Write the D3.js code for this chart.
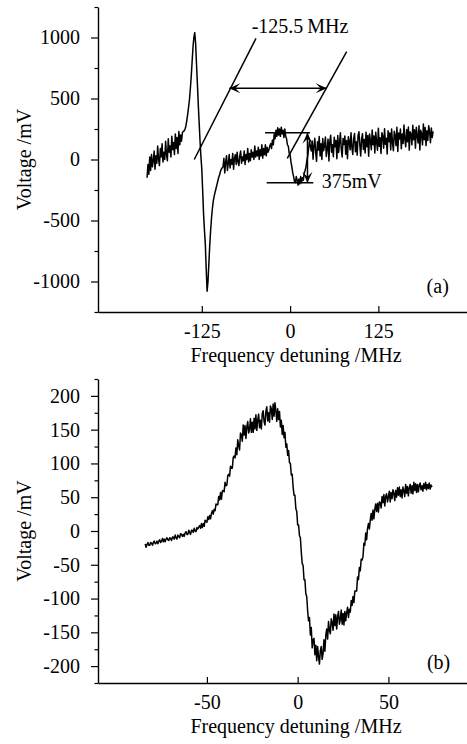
<!DOCTYPE html>
<html>
<head>
<meta charset="utf-8">
<script src="https://cdn.jsdelivr.net/npm/d3@7/dist/d3.min.js"></script>
<style>
  body { margin: 0; background: #fff; }
  svg text { font-family: "Times New Roman", Times, "Liberation Serif", "Nimbus Roman", "DejaVu Serif", serif; fill: #000; }
</style>
</head>
<body>
<svg id="chart" width="467" height="744"></svg>
<script>
const SERIF = '"Times New Roman", Times, "Liberation Serif", "DejaVu Serif", serif';

// (a) sampled every 1.25 MHz starting at -202.5 MHz, mV
const topStart = -202.5;
const topStep = 1.25;
const topVolt = [
  // -202.5 .. -153.75
  -150, -40, -120, 20, -90, 40, -60, -10, 70, -80, 30, -30, 110, 0, -50, 90, 20, 130, -20, 60,
  0, 150, 40, -10, 170, 60, 110, 20, 190, 80, 140, 40, 210, 90, 180, 50, 230, 120, 200, 150,
  // -152.5 .. -96.25
  220, 230, 235, 250, 275, 320, 370, 430, 490, 580, 680, 800, 920, 1000, 1040, 950, 780, 620, 450, 300,
  150, 20, -80, -260, -450, -580, -700, -900, -1080, -1000, -850, -700, -580, -480, -400, -340, -300, -270, -240, -210,
  -180, -150, -130, -100, -80, -70,
  // -95 .. -31.25
  -60, 10, -110, -20, 30, -90, -30, 40, -70, 0, -40, 50, -80, 10, 40, -40, 60, -20, -50, 30,
  70, -30, 20, -10, 70, -40, 40, 0, 90, -20, 50, -10, 80, 20, 60, 0, 110, 20, 70, 30,
  100, 0, 80, 30, 120, 10, 90, 40, 120, 30, 100, 60,
  // -30 .. 30
  80, 110, 130, 90, 160, 120, 210, 170, 240, 190, 260, 200, 250, 190, 265, 210, 240, 180, 250, 190,
  170, 120, 110, 50, 40, -20, -60, -110, -140, -180, -190, -140, -170, -210, -160, -200, -140, -190, -150, -170,
  -110, -90, -60, -10, 30, 90, 150, 110, 70,
  // 31.25 .. 202.5
  151, 2, 113, 174, 54, -15, 146, 77, 188, 29, 130, 1, 172, 72, 113, 184, 25, 86, 167, -12,
  149, 199, 60, 121, 22, 183, 104, 155, 6, 196, 57, 138, 219, 80, 21, 172, 123, 193, 44, 155,
  6, 187, 148, 79, 220, 100, 41, 172, 213, 64, 145, 36, 197, 227, 118, 29, 170, 211, 82, 163,
  54, 224, 105, 196, 27, 208, 159, 80, 241, 121, 192, 53, 224, 145, 76, 257, 108, 178, 49, 220,
  191, 92, 253, 124, 175, 45, 236, 147, 218, 79, 250, 141, 72, 232, 193, 114, 265, 66, 217, 168,
  249, 89, 209, 131, 282, 163, 104, 245, 146, 266, 77, 228, 209, 120, 281, 162, 244, 93, 265, 195,
  136, 277, 78, 239, 210, 120, 291, 162, 263, 114, 235, 156, 277, 227, 138, 259, 180, 231
];

// (b) sampled every 0.5 MHz starting at -84 MHz, mV
const botStart = -84;
const botStep = 0.5;
const botVolt = [
  -19, -24, -20, -17, -21, -21, -17, -18, -21, -17, -15, -19, -18, -15, -19, -15, -13, -17, -15, -11,
  -16, -12, -16, -12, -10, -13, -14, -10, -11, -14, -9, -9, -12, -6, -10, -12, -6, -8, -10, -4,
  -5, -8, -5, -8, -3, -1, -5, -5, 1, -2, -5, 1, 1, -2, 4, 0, -1, 5, 3, 6,
  8, 4, 11, 5, 11, 7, 16, 14, 13, 21, 17, 23, 18, 26, 30, 25, 32, 30, 40, 39,
  39, 51, 46, 57, 47, 59, 60, 58, 72, 67, 68, 82, 84, 81, 96, 93, 93, 109, 111, 108,
  123, 113, 135, 126, 120, 145, 142, 133, 157, 142, 156, 137, 154, 162, 145, 151, 166, 146, 161, 146,
  167, 151, 172, 149, 164, 173, 153, 164, 151, 174, 178, 162, 157, 177, 184, 163, 175, 161, 185, 181,
  165, 188, 170, 190, 178, 162, 181, 165, 177, 154, 164, 143, 156, 138, 146, 124, 129, 112, 119, 101,
  100, 83, 84, 65, 53, 53, 33, 29, 9, 9, -7, -10, -31, -48, -51, -72, -72, -93, -97, -118,
  -133, -128, -154, -143, -173, -161, -159, -183, -169, -192, -171, -186, -197, -177, -171, -190, -181, -161, -178, -155,
  -145, -160, -134, -147, -152, -130, -135, -147, -123, -140, -124, -145, -127, -119, -138, -131, -117, -138, -122, -139,
  -119, -133, -121, -113, -128, -116, -120, -103, -110, -97, -106, -89, -89, -89, -68, -72, -54, -59, -42, -43,
  -38, -18, -21, -3, -13, 4, 11, 3, 16, 26, 16, 31, 18, 32, 40, 29, 41, 28, 43, 42,
  34, 51, 42, 54, 37, 51, 55, 43, 50, 59, 43, 57, 48, 61, 56, 45, 60, 50, 64, 53,
  65, 51, 61, 49, 65, 60, 51, 69, 56, 66, 52, 64, 69, 56, 67, 55, 72, 60, 70, 57,
  69, 58, 68, 71, 61, 67, 59, 70, 63, 72, 61, 69, 63, 71, 62, 68, 65
];

const topTicksX = [-125, 0, 125];
const topTicksY = [-1000, -500, 0, 500, 1000];
const topMinorY = [-1250, -750, -250, 250, 750, 1250];
const botTicksX = [-50, 0, 50];
const botTicksY = [-200, -150, -100, -50, 0, 50, 100, 150, 200];
const botMinorY = [-225, -175, -125, -75, -25, 25, 75, 125, 175, 225];

// annotations of panel (a), in MHz / mV
const markerLines = [
  [[-135.7, 0], [-48.3, 993]],
  [[-4, 10], [80.1, 884]],
  [[-35.5, 220], [28.2, 220]],
  [[-33.1, -190], [32.9, -190]]
];
const spanArrow = [[-86.1, 584], [51.8, 584]];
const heightArrow = [[24.6, 220], [24.6, -190]];

const svg = d3.select('svg#chart');

const toPairs = (start, step, vals) => vals.map((v, i) => [start + i * step, v]);

const arrowHead = (g, tip, from) => {
  // concave filled head pointing at tip
  const ang = Math.atan2(tip[1] - from[1], tip[0] - from[0]);
  const L = 11, W = 5, N = 6;
  const pt = (a, b) => [tip[0] - a * Math.cos(ang) + b * Math.sin(ang),
                        tip[1] - a * Math.sin(ang) - b * Math.cos(ang)];
  const p = [tip, pt(L, W), pt(N, 0), pt(L, -W)];
  g.append('path')
    .attr('d', 'M' + p.map(d => d.join(',')).join('L') + 'Z')
    .attr('fill', '#000');
};

const styleAxis = a => {
  a.attr('font-family', SERIF).attr('font-size', 20);
  a.select('.domain').attr('stroke-width', 1.4);
  a.selectAll('line').attr('stroke-width', 1.2);
  a.selectAll('text').attr('font-family', SERIF).attr('font-size', 20);
};

const drawPanel = cfg => {
  const x = d3.scaleLinear().domain(cfg.xDomain).range([98, 467]);
  const y = d3.scaleLinear().domain(cfg.yDomain).range([cfg.bottom, cfg.top]);
  const g = svg.append('g');

  // minor y ticks
  g.append('g')
    .attr('transform', 'translate(98,0)')
    .call(d3.axisLeft(y).tickValues(cfg.minorY).tickSize(3.5).tickFormat(''))
    .call(a => a.select('.domain').remove())
    .call(a => a.selectAll('line').attr('stroke-width', 1.2));

  g.append('g')
    .attr('transform', 'translate(98,0)')
    .call(d3.axisLeft(y).tickValues(cfg.ticksY).tickFormat(d => String(d))
      .tickSizeInner(7).tickSizeOuter(0).tickPadding(11))
    .call(styleAxis);

  g.append('g')
    .attr('transform', `translate(0,${cfg.bottom})`)
    .call(d3.axisBottom(x).tickValues(cfg.ticksX).tickFormat(d => String(d))
      .tickSizeInner(-6).tickSizeOuter(0).tickPadding(12))
    .call(styleAxis);

  g.append('text')
    .attr('x', 296)
    .attr('y', cfg.bottom + 50)
    .attr('text-anchor', 'middle')
    .attr('font-size', 20)
    .text('Frequency detuning /MHz');

  g.append('text')
    .attr('transform', `translate(31,${(cfg.top + cfg.bottom) / 2}) rotate(-90)`)
    .attr('text-anchor', 'middle')
    .attr('font-size', 20)
    .text('Voltage /mV');

  g.append('path')
    .datum(cfg.trace)
    .attr('fill', 'none')
    .attr('stroke', '#000')
    .attr('stroke-width', cfg.lw)
    .attr('stroke-linejoin', 'round')
    .attr('d', d3.line().x(d => x(d[0])).y(d => y(d[1])));

  g.append('text')
    .attr('x', x(cfg.tag[0]))
    .attr('y', y(cfg.tag[1]))
    .attr('font-size', 20)
    .text(cfg.tag[2]);

  return { g, x, y };
};

const a = drawPanel({
  xDomain: [-272, 250.5], yDomain: [-1250, 1250], top: 7, bottom: 312,
  ticksX: topTicksX, ticksY: topTicksY, minorY: topMinorY, lw: 1.5,
  trace: toPairs(topStart, topStep, topVolt),
  tag: [193.3, -1094, '(a)']
});

drawPanel({
  xDomain: [-110, 93.3], yDomain: [-225, 225], top: 379, bottom: 683,
  ticksX: botTicksX, ticksY: botTicksY, minorY: botMinorY, lw: 1.5,
  trace: toPairs(botStart, botStep, botVolt),
  tag: [71.2, -204.3, '(b)']
});

// annotations on (a)
const P = d => [a.x(d[0]), a.y(d[1])];
const ann = a.g.append('g');
markerLines.forEach(l => {
  ann.append('line')
    .attr('x1', P(l[0])[0]).attr('y1', P(l[0])[1])
    .attr('x2', P(l[1])[0]).attr('y2', P(l[1])[1])
    .attr('stroke', '#000').attr('stroke-width', 1.5);
});
[spanArrow, heightArrow].forEach(ar => {
  const p0 = P(ar[0]), p1 = P(ar[1]);
  ann.append('line')
    .attr('x1', p0[0]).attr('y1', p0[1]).attr('x2', p1[0]).attr('y2', p1[1])
    .attr('stroke', '#000').attr('stroke-width', 1.5);
  arrowHead(ann, p0, p1);
  arrowHead(ann, p1, p0);
});

ann.append('text')
  .attr('x', a.x(-54.4)).attr('y', a.y(1034))
  .attr('font-size', 20)
  .text('-125.5\u2009MHz');

ann.append('text')
  .attr('x', a.x(44.7)).attr('y', a.y(-234))
  .attr('font-size', 20)
  .text('375mV');
</script>
</body>
</html>
